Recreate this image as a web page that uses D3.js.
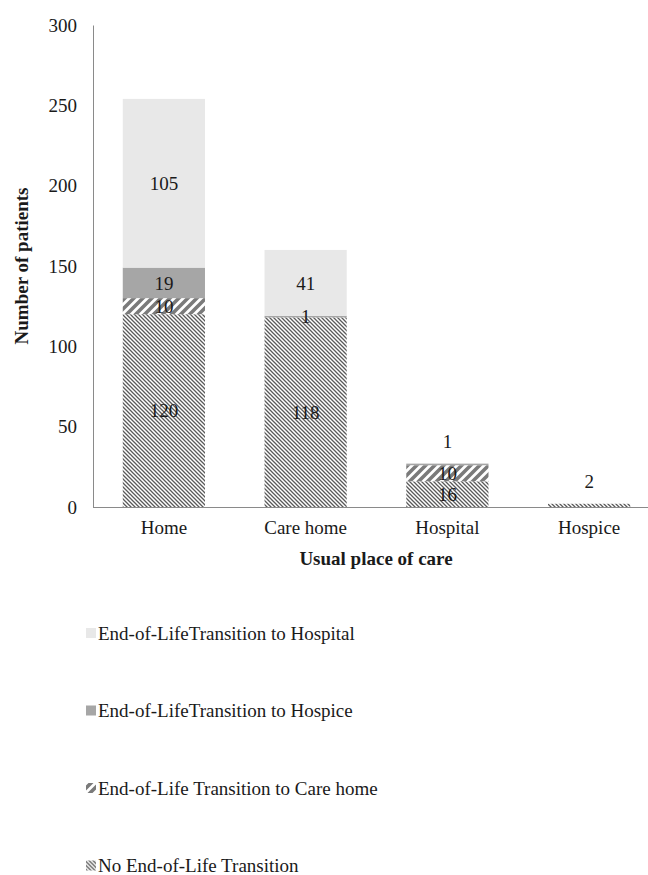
<!DOCTYPE html>
<html lang="en">
<head>
  <meta charset="utf-8">
  <script src="https://cdn.jsdelivr.net/npm/d3@7"></script>
  <style>
    body { margin: 0; background: #fff; }
  </style>
</head>
<body>
<svg id="chart" width="648" height="875"></svg>
<script>
  // data
  var places = ["Home", "Care home", "Hospital", "Hospice"];
  var noTransition = [120, 118, 16, 2];
  var toCareHome = [10, 0, 10, 0];
  var toHospice = [19, 1, 1, 0];
  var toHospital = [105, 41, 0, 0];
  var yTicks = [0, 50, 100, 150, 200, 250, 300];

  var seriesNames = ["No End-of-Life Transition", "End-of-Life Transition to Care home",
                     "End-of-LifeTransition to Hospice", "End-of-LifeTransition to Hospital"];
  var seriesValues = [noTransition, toCareHome, toHospice, toHospital];
  var fills = ["url(#dense)", "url(#wide)", "#a6a6a6", "#e8e8e8"];

  var FONT = "'Liberation Serif', 'Times New Roman', serif";
  var svg = d3.select("#chart");

  // hatch patterns
  var defs = svg.append("defs");
  var p1 = defs.append("pattern").attr("id", "dense")
    .attr("patternUnits", "userSpaceOnUse").attr("width", 4).attr("height", 4);
  p1.append("rect").attr("width", 4).attr("height", 4).attr("fill", "#fff");
  p1.append("path").attr("d", "M0,0L4,4M-1,3L1,5M3,-1L5,1")
    .attr("stroke", "#5a5a5a").attr("stroke-width", 1.3);

  var p2 = defs.append("pattern").attr("id", "wide")
    .attr("patternUnits", "userSpaceOnUse").attr("width", 9).attr("height", 9);
  p2.append("rect").attr("width", 9).attr("height", 9).attr("fill", "#fff");
  p2.append("path").attr("d", "M0,9L9,0M-2.25,2.25L2.25,-2.25M6.75,11.25L11.25,6.75")
    .attr("stroke", "#7a7a7a").attr("stroke-width", 3.6);

  var x = d3.scaleBand().domain(places).range([93, 660])
    .paddingInner(0.42).paddingOuter(0.21);
  var y = d3.scaleLinear().domain([0, 300]).range([507, 25]);

  // stacked rows
  var rows = places.map(function (p, i) {
    var r = { place: p };
    seriesNames.forEach(function (s, k) { r[s] = seriesValues[k][i]; });
    return r;
  });
  var stack = d3.stack().keys(seriesNames)(rows);

  stack.forEach(function (layer, k) {
    svg.append("g").selectAll("rect")
      .data(layer.filter(function (d) { return d[1] > d[0]; }))
      .enter().append("rect")
      .attr("x", function (d) { return x(d.data.place); })
      .attr("width", x.bandwidth())
      .attr("y", function (d) { return y(d[1]); })
      .attr("height", function (d) { return y(d[0]) - y(d[1]); })
      .attr("fill", fills[k]);
  });

  // axes
  var yAxis = svg.append("g").attr("transform", "translate(93,0)")
    .call(d3.axisLeft(y).tickValues(yTicks).tickSize(0).tickPadding(16))
    .attr("font-family", FONT);
  yAxis.select(".domain").attr("stroke", "#8a8a8a");
  yAxis.selectAll("text").style("font-family", FONT).style("font-size", "19px").attr("fill", "#1a1a1a");

  var xAxis = svg.append("g").attr("transform", "translate(0,507)")
    .call(d3.axisBottom(x).tickSize(0).tickPadding(14))
    .attr("font-family", FONT);
  xAxis.select(".domain").attr("d", "M93,0.5H648").attr("stroke", "#8a8a8a");
  xAxis.selectAll("text").style("font-family", FONT).style("font-size", "19px").attr("fill", "#1a1a1a");

  // data labels
  stack.forEach(function (layer, k) {
    layer.forEach(function (d, i) {
      var v = d[1] - d[0];
      if (v <= 0) return;
      var total = d3.sum(seriesValues, function (s) { return s[i]; });
      var cy = (y(d[0]) + y(d[1])) / 2;
      if (total < 50 && d[1] === total) cy = y(d[1]) - 22;
      svg.append("text")
        .attr("x", x(d.data.place) + x.bandwidth() / 2)
        .attr("y", cy).attr("dy", "0.35em")
        .attr("text-anchor", "middle")
        .style("font-family", FONT).style("font-size", "19px")
        .attr("fill", "#1a1a1a")
        .text(v);
    });
  });

  // axis titles
  svg.append("text")
    .attr("transform", "translate(21,266) rotate(-90)")
    .attr("text-anchor", "middle").attr("dy", "0.35em")
    .style("font-family", FONT).style("font-size", "19px").style("font-weight", "bold")
    .attr("fill", "#1a1a1a")
    .text("Number of patients");
  svg.append("text")
    .attr("x", 376).attr("y", 558).attr("dy", "0.35em")
    .attr("text-anchor", "middle")
    .style("font-family", FONT).style("font-size", "19px").style("font-weight", "bold")
    .attr("fill", "#1a1a1a")
    .text("Usual place of care");

  // legend, top to bottom in reverse stack order
  var legendOrder = [3, 2, 1, 0];
  var legend = svg.append("g").selectAll("g")
    .data(legendOrder).enter().append("g")
    .attr("transform", function (k, j) { return "translate(86," + (633 + j * 77.5) + ")"; });
  legend.append("rect")
    .attr("x", 0).attr("y", -5).attr("width", 10).attr("height", 10)
    .attr("fill", function (k) { return fills[k]; });
  legend.append("text")
    .attr("x", 12).attr("dy", "0.35em")
    .style("font-family", FONT).style("font-size", "19px")
    .attr("fill", "#1a1a1a")
    .text(function (k) { return seriesNames[k]; });
</script>
</body>
</html>
